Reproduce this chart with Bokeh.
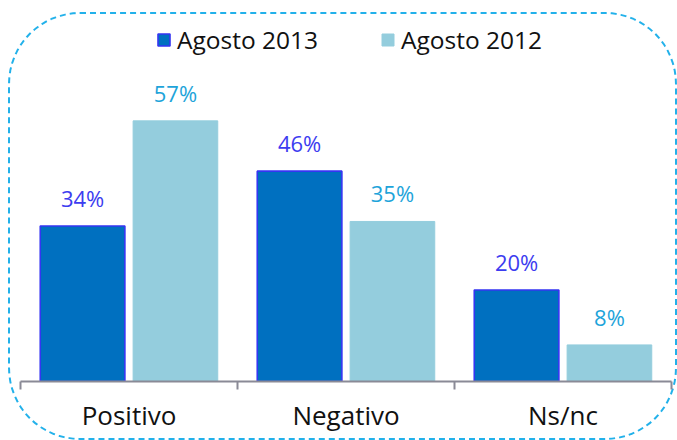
from bokeh.plotting import figure
from bokeh.models import ColumnDataSource, Range1d, FixedTicker, Legend, LegendItem
from bokeh.core.properties import value
from bokeh.embed import file_html
from bokeh.resources import INLINE

categories = ["Positivo", "Negativo", "Ns/nc"]
series_names = ["Agosto 2013", "Agosto 2012"]
values_2013 = [34, 46, 20]
values_2012 = [57, 35, 8]

FONT = "Open Sans"
DARK = "#0070c0"
DARK_LINE = "#3535f2"
LIGHT = "#94cddd"
DARK_LABEL = "#3c3cf0"
LIGHT_LABEL = "#1ea4da"
BORDER = "#22b1ea"

centers = [i + 0.5 for i in range(len(categories))]
off = 0.214
bw = 0.39

src13 = ColumnDataSource(dict(x=[c - off for c in centers], top=values_2013,
                              lab=[f"{v}%" for v in values_2013]))
src12 = ColumnDataSource(dict(x=[c + off for c in centers], top=values_2012,
                              lab=[f"{v}%" for v in values_2012]))

p = figure(width=669, height=428, output_backend="svg", toolbar_location=None,
           x_range=Range1d(0, len(categories)), y_range=Range1d(0, 80.7),
           y_axis_location=None, min_border_left=12, min_border_right=6,
           min_border_top=0, min_border_bottom=59)
p.margin = (12, 0, 0, 8)
p.styles = {"outline": f"2px dashed {BORDER}", "outline-offset": "-2px",
            "border-radius": "72px"}
p.outline_line_color = None
p.background_fill_color = None
p.border_fill_color = None
p.xgrid.visible = False
p.ygrid.visible = False

r13 = p.vbar(x="x", top="top", width=bw, bottom=0, source=src13,
             fill_color=DARK, line_color=DARK_LINE, line_width=1.6)
r12 = p.vbar(x="x", top="top", width=bw, bottom=0, source=src12,
             fill_color=LIGHT, line_color=LIGHT, line_width=1)

p.text(x="x", y="top", text="lab", source=src13, text_align="center",
       text_baseline="alphabetic", y_offset=-28, text_font=value(FONT),
       text_font_size="22px", text_color=DARK_LABEL)
p.text(x="x", y="top", text="lab", source=src12, text_align="center",
       text_baseline="alphabetic", y_offset=-28, text_font=value(FONT),
       text_font_size="22px", text_color=LIGHT_LABEL)

ax = p.xaxis[0]
ax.ticker = FixedTicker(ticks=centers, minor_ticks=[0, 1, 2, 3])
ax.major_label_overrides = {c: name for c, name in zip(centers, categories)}
ax.major_tick_line_color = None
ax.major_tick_out = 0
ax.major_tick_in = 0
ax.minor_tick_out = 8
ax.minor_tick_in = 0
ax.minor_tick_line_color = "#8a8a96"
ax.minor_tick_line_width = 2
ax.axis_line_color = "#8a8a96"
ax.axis_line_width = 2
ax.major_label_text_font = FONT
ax.major_label_text_font_size = "26px"
ax.major_label_text_color = "#111111"
ax.major_label_standoff = 7

def make_legend(renderer, label, xloc):
    leg = Legend(items=[LegendItem(label=label, renderers=[renderer])],
                 location=(xloc, 325), orientation="horizontal",
                 glyph_width=15, glyph_height=15, label_standoff=6,
                 padding=0, margin=0, spacing=0,
                 label_text_font=FONT, label_text_font_size="24.5px",
                 label_text_color="#111111",
                 border_line_color=None, background_fill_alpha=0)
    p.add_layout(leg, "center")

make_legend(r13, series_names[0], 136)
make_legend(r12, series_names[1], 360)

open("out.html", "w").write(file_html(p, INLINE))
